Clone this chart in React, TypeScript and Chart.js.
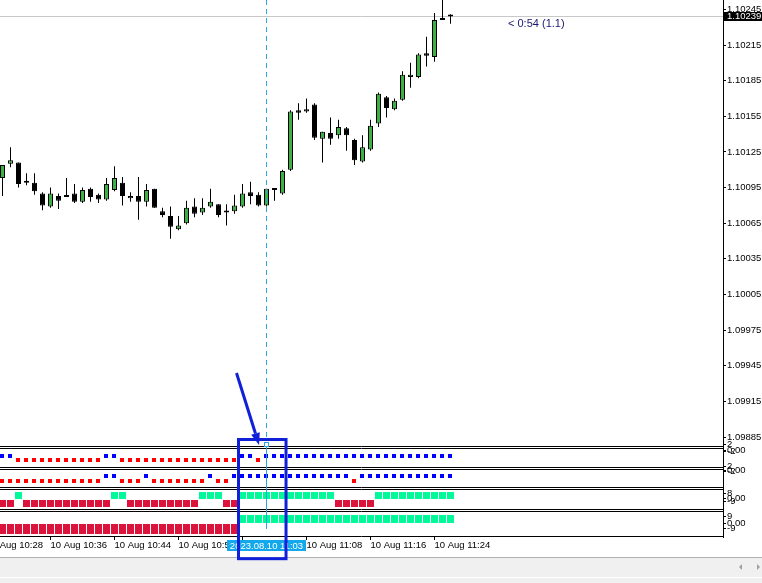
import React, { useEffect, useRef } from 'react';
import { Chart, registerables } from 'chart.js';

Chart.register(...registerables);

const FONT = "'Liberation Sans', Arial, sans-serif";
const TICK_FONT = { family: FONT, size: 9.5 };

// ---- time axis (candle index -> label) ----
const timeTickIndex = [-2, 6, 14, 22, 30, 38, 46, 54];
const timeLabels = [
  '10 Aug 10:28', '10 Aug 10:36', '10 Aug 10:44', '10 Aug 10:52',
  '10 Aug 11:00', '10 Aug 11:08', '10 Aug 11:16', '10 Aug 11:24',
];

// ---- price axis ----
const priceTicks = [
  1.09885, 1.09915, 1.09945, 1.09975, 1.10005, 1.10035, 1.10065,
  1.10095, 1.10125, 1.10155, 1.10185, 1.10215, 1.10245,
];

// ---- candles (M1, 10:30 .. 11:26) ----
const opens = [
  1.10103, 1.10115, 1.10116, 1.10099, 1.10099, 1.10090, 1.10079, 1.10088, 1.10088, 1.10090,
  1.10083, 1.10094, 1.10089, 1.10085, 1.10093, 1.10099, 1.10086, 1.10088, 1.10083, 1.10094,
  1.10075, 1.10071, 1.10060, 1.10065, 1.10079, 1.10074, 1.10079, 1.10081, 1.10075, 1.10075,
  1.10079, 1.10091, 1.10089, 1.10080, 1.10093, 1.10090, 1.10110, 1.10160, 1.10159, 1.10165,
  1.10136, 1.10141, 1.10139, 1.10145, 1.10135, 1.10117, 1.10127, 1.10149, 1.10171, 1.10161,
  1.10169, 1.10188, 1.10188, 1.10208, 1.10205, 1.10237, 1.10239,
];
const highs = [
  1.10114, 1.10129, 1.10116, 1.10107, 1.10107, 1.10091, 1.10095, 1.10090, 1.10103, 1.10098,
  1.10095, 1.10095, 1.10090, 1.10103, 1.10113, 1.10104, 1.10091, 1.10104, 1.10098, 1.10094,
  1.10078, 1.10079, 1.10071, 1.10084, 1.10086, 1.10086, 1.10094, 1.10081, 1.10081, 1.10089,
  1.10098, 1.10100, 1.10091, 1.10094, 1.10094, 1.10110, 1.10160, 1.10166, 1.10170, 1.10166,
  1.10142, 1.10154, 1.10152, 1.10146, 1.10136, 1.10139, 1.10152, 1.10175, 1.10172, 1.10170,
  1.10193, 1.10200, 1.10208, 1.10222, 1.10242, 1.10257, 1.10241,
];
const lows = [
  1.10088, 1.10112, 1.10095, 1.10097, 1.10089, 1.10076, 1.10078, 1.10077, 1.10087, 1.10082,
  1.10082, 1.10083, 1.10082, 1.10084, 1.10092, 1.10080, 1.10083, 1.10068, 1.10079, 1.10078,
  1.10070, 1.10052, 1.10059, 1.10064, 1.10070, 1.10072, 1.10078, 1.10070, 1.10063, 1.10073,
  1.10078, 1.10081, 1.10079, 1.10079, 1.10084, 1.10089, 1.10109, 1.10152, 1.10158, 1.10135,
  1.10116, 1.10131, 1.10136, 1.10126, 1.10114, 1.10116, 1.10126, 1.10146, 1.10154, 1.10160,
  1.10168, 1.10179, 1.10187, 1.10197, 1.10201, 1.10236, 1.10233,
];
const closes = [
  1.10114, 1.10118, 1.10098, 1.10099, 1.10092, 1.10080, 1.10090, 1.10084, 1.10087, 1.10083,
  1.10093, 1.10087, 1.10085, 1.10098, 1.10103, 1.10088, 1.10088, 1.10083, 1.10093, 1.10078,
  1.10072, 1.10062, 1.10063, 1.10078, 1.10073, 1.10078, 1.10083, 1.10072, 1.10074, 1.10080,
  1.10090, 1.10088, 1.10080, 1.10094, 1.10093, 1.10109, 1.10159, 1.10158, 1.10161, 1.10137,
  1.10142, 1.10136, 1.10146, 1.10139, 1.10118, 1.10129, 1.10147, 1.10174, 1.10162, 1.10168,
  1.10190, 1.10190, 1.10207, 1.10206, 1.10236, 1.10236, 1.10239,
];

const bidPrice = 1.10239;
const crossIndex = 33;
const crossLabel = '2023.08.10 11:03';
const timerText = '< 0:54 (1.1)';

// ---- indicator signals: 1 = up mark, -1 = down mark ----
const pane1Signal = [
  1, 1,
  -1, -1, -1, -1, -1, -1, -1, -1, -1, -1, -1,
  1, 1,
  -1, -1, -1, -1, -1, -1, -1, -1, -1, -1, -1, -1, -1, -1, -1,
  1, 1,
  -1,
  1, 1, 1, 1, 1, 1, 1, 1, 1, 1, 1, 1, 1, 1, 1, 1, 1, 1, 1, 1, 1, 1, 1, 1,
];
const pane2Signal = [
  -1, -1, -1, -1, -1, -1, -1, -1, -1, -1, -1, -1, -1,
  1, 1,
  -1, -1, -1,
  1,
  -1, -1, -1, -1, -1, -1, -1,
  1,
  -1, -1,
  1, 1, 1, 1, 1, 1, 1, 1, 1, 1, 1, 1, 1, 1, 1,
  -1,
  1, 1, 1, 1, 1, 1, 1, 1, 1, 1, 1, 1,
];
const pane3Signal = [
  -1, -1,
  1,
  -1, -1, -1, -1, -1, -1, -1, -1, -1, -1, -1,
  1, 1,
  -1, -1, -1, -1, -1, -1, -1, -1, -1,
  1, 1, 1,
  -1, -1,
  1, 1, 1, 1, 1, 1, 1, 1, 1, 1, 1, 1,
  -1, -1, -1, -1, -1,
  1, 1, 1, 1, 1, 1, 1, 1, 1, 1,
];
const pane4Signal = [
  -1, -1, -1, -1, -1, -1, -1, -1, -1, -1, -1, -1, -1, -1, -1,
  -1, -1, -1, -1, -1, -1, -1, -1, -1, -1, -1, -1, -1, -1, -1,
  1, 1, 1, 1, 1, 1, 1, 1, 1, 1, 1, 1, 1, 1, 1, 1, 1, 1, 1, 1, 1, 1, 1, 1, 1, 1, 1,
];

const pane1TickLabels = ['2', '0.00', '-2'];
const pane2TickLabels = ['2', '0.00', '-2'];
const pane3TickLabels = ['8', '0.00', '-9'];
const pane4TickLabels = ['9', '0.00', '-9'];
const pane1TickAt = [7.25, 4.0, 3.5];
const pane2TickAt = [5.2, 3.6, 3.2];
const pane3TickAt = [1.5, 0.3, -0.375];
const pane4TickAt = [1.56, 0.24, -0.7];

// ---- view / styling config ----
const X_MIN = -0.3125;
const X_MAX = 90.0625;
const Y_MIN = 1.098766;
const Y_MAX = 1.102529;
const GREEN = '#3CB043';
const CROSS = '#2AA6DE';
const ANNOT = '#1020D8';
const SPRING = '#00FA9A';
const CRIMSON = '#DC143C';
const timerPos = { x: 63.19, price: 1.102331 };
const annotRect = { x0: 29.5, x1: 35.44, priceTop: 1.098829 };
const annotArrow = { x0: 29.25, p0: 1.0993888, x1: 32.07, p1: 1.0987833 };

function makeMarker(w: number, h: number, color: string) {
  const c = document.createElement('canvas');
  c.width = w % 2 === 0 ? w + 1 : w;
  c.height = h % 2 === 0 ? h + 1 : h;
  const g = c.getContext('2d')!;
  g.fillStyle = color;
  g.fillRect(0, 0, w, h);
  return c;
}

function rightAxis(weight: number, min: number, max: number, tickVals: number[], tickLabels: string[]) {
  return {
    type: 'linear',
    position: 'right',
    stack: 'mt4',
    stackWeight: weight,
    min,
    max,
    offset: false,
    beginAtZero: false,
    grid: { drawOnChartArea: false, drawTicks: true, tickLength: 3, color: '#000', lineWidth: 1 },
    border: { display: true, color: '#000', width: 1 },
    ticks: {
      autoSkip: false,
      padding: 1,
      color: '#000',
      font: TICK_FONT,
      callback: (_v: any, i: number) => tickLabels[i],
    },
    afterBuildTicks: (s: any) => {
      s.ticks = tickVals.map((v) => ({ value: v }));
    },
    afterFit: (s: any) => {
      s.width = 39;
      s.paddingTop = 0;
      s.paddingBottom = 0;
    },
  };
}

const mt4Plugin = {
  id: 'mt4',
  beforeDatasetsDraw(chart: any) {
    const { ctx, chartArea, scales } = chart;
    const yb = Math.floor(scales.y.getPixelForValue(bidPrice)) + 0.5;
    ctx.save();
    ctx.strokeStyle = '#C8C8C8';
    ctx.lineWidth = 1;
    ctx.beginPath();
    ctx.moveTo(chartArea.left, yb);
    ctx.lineTo(chartArea.right, yb);
    ctx.stroke();
    ctx.restore();
  },
  afterDatasetsDraw(chart: any) {
    const { ctx, chartArea, scales } = chart;
    const L = chartArea.left;
    const R = chartArea.right;
    ctx.save();
    ctx.strokeStyle = '#000';
    ctx.lineWidth = 1;
    const hl = (y: number) => {
      ctx.beginPath();
      ctx.moveTo(L, y);
      ctx.lineTo(R, y);
      ctx.stroke();
    };
    hl(scales.y.bottom - 0.5);
    ['p1', 'p2', 'p3', 'p4'].forEach((id) => {
      const s = scales[id];
      hl(s.top + 1.5);
      hl(s.bottom - 0.5);
    });
    const cx = Math.floor(scales.x.getPixelForValue(crossIndex)) + 0.5;
    ctx.strokeStyle = CROSS;
    ctx.setLineDash([5, 4]);
    ctx.beginPath();
    ctx.moveTo(cx, chartArea.top);
    ctx.lineTo(cx, scales.y.bottom - 9);
    ctx.stroke();
    ctx.setLineDash([]);
    ctx.beginPath();
    ctx.moveTo(cx, scales.y.bottom - 1);
    ctx.lineTo(cx, scales.p4.top + 19);
    ctx.stroke();
    ctx.strokeRect(cx - 2, scales.y.bottom - 4.5, 4, 4);
    ctx.restore();
  },
  afterDraw(chart: any) {
    const { ctx, scales, width, height } = chart;
    const xs = scales.x;
    const ys = scales.y;
    ctx.save();
    // current price box on the axis
    const yb = Math.floor(ys.getPixelForValue(bidPrice));
    ctx.fillStyle = '#000';
    ctx.fillRect(ys.left + 1, yb - 4, width - ys.left - 1, 9);
    ctx.fillStyle = '#fff';
    ctx.font = `9.5px ${FONT}`;
    ctx.textAlign = 'left';
    ctx.textBaseline = 'middle';
    ctx.fillText(bidPrice.toFixed(5), ys.left + 4, yb + 0.5);
    // bar timer text
    ctx.fillStyle = '#191970';
    ctx.font = `11px ${FONT}`;
    ctx.fillText(timerText, xs.getPixelForValue(timerPos.x), ys.getPixelForValue(timerPos.price));
    // crosshair time label
    const cx = xs.getPixelForValue(crossIndex);
    ctx.fillStyle = '#13A8EC';
    ctx.fillRect(Math.round(cx - 39.5), xs.top + 3, 79, 11);
    ctx.fillStyle = '#fff';
    ctx.font = `9.5px ${FONT}`;
    ctx.textAlign = 'center';
    ctx.fillText(crossLabel, cx, xs.top + 9);
    // bottom scroll bar strip
    ctx.fillStyle = '#F0F0F0';
    ctx.fillRect(0, xs.bottom, width, height - xs.bottom);
    ctx.fillStyle = '#B0B0B0';
    ctx.fillRect(0, xs.bottom, width, 1);
    ctx.fillStyle = '#FFFFFF';
    ctx.fillRect(0, xs.bottom + 20, width, 1);
    ctx.fillStyle = '#A0A0A0';
    const ay = xs.bottom + 10;
    ctx.beginPath();
    ctx.moveTo(width - 23, ay);
    ctx.lineTo(width - 20, ay - 3);
    ctx.lineTo(width - 20, ay + 3);
    ctx.closePath();
    ctx.fill();
    ctx.beginPath();
    ctx.moveTo(width - 2, ay);
    ctx.lineTo(width - 5, ay - 3);
    ctx.lineTo(width - 5, ay + 3);
    ctx.closePath();
    ctx.fill();
    // user annotation: rectangle + arrow
    ctx.strokeStyle = ANNOT;
    ctx.fillStyle = ANNOT;
    ctx.lineWidth = 3;
    const rx0 = xs.getPixelForValue(annotRect.x0);
    const rx1 = xs.getPixelForValue(annotRect.x1);
    const ry0 = ys.getPixelForValue(annotRect.priceTop);
    const ry1 = xs.bottom + 1.7;
    ctx.strokeRect(rx0, ry0, rx1 - rx0, ry1 - ry0);
    const sx = xs.getPixelForValue(annotArrow.x0);
    const sy = ys.getPixelForValue(annotArrow.p0);
    const tx = xs.getPixelForValue(annotArrow.x1);
    const ty = ys.getPixelForValue(annotArrow.p1);
    const dx = tx - sx;
    const dy = ty - sy;
    const len = Math.hypot(dx, dy);
    const ux = dx / len;
    const uy = dy / len;
    const bx = tx - ux * 12;
    const by = ty - uy * 12;
    ctx.beginPath();
    ctx.moveTo(sx, sy);
    ctx.lineTo(bx, by);
    ctx.stroke();
    ctx.beginPath();
    ctx.moveTo(tx, ty);
    ctx.lineTo(bx - uy * 4.5, by + ux * 4.5);
    ctx.lineTo(bx + uy * 4.5, by - ux * 4.5);
    ctx.closePath();
    ctx.fill();
    ctx.restore();
  },
};

export default function App() {
  const ref = useRef<HTMLCanvasElement>(null);

  useEffect(() => {
    const canvas = ref.current;
    if (!canvas) return;

    const bodies = opens.map((o, i) => ({ x: i, y: [o, closes[i]] }));
    const wicks = lows.map((l, i) => ({ x: i, y: [l, highs[i]] }));
    const bodyColors = opens.map((o, i) => (closes[i] > o ? GREEN : '#000'));

    const markerSet = (signal: number[], axis: string, up: HTMLCanvasElement, down: HTMLCanvasElement) => [
      {
        type: 'line',
        data: signal.map((s, i) => (s === 1 ? { x: i, y: 1 } : null)).filter(Boolean),
        yAxisID: axis,
        xAxisID: 'x',
        showLine: false,
        pointStyle: up,
        pointRadius: 3,
        pointHoverRadius: 3,
        order: 2,
      },
      {
        type: 'line',
        data: signal.map((s, i) => (s === -1 ? { x: i, y: -1 } : null)).filter(Boolean),
        yAxisID: axis,
        xAxisID: 'x',
        showLine: false,
        pointStyle: down,
        pointRadius: 3,
        pointHoverRadius: 3,
        order: 2,
      },
    ];

    const datasets: any[] = [
      {
        type: 'bar',
        data: bodies,
        xAxisID: 'x',
        yAxisID: 'y',
        backgroundColor: bodyColors,
        borderColor: '#000',
        borderWidth: 1,
        borderSkipped: false,
        barThickness: 5,
        minBarLength: 2,
        grouped: false,
        inflateAmount: 0,
        order: 0,
      },
      {
        type: 'bar',
        data: wicks,
        xAxisID: 'x',
        yAxisID: 'y',
        backgroundColor: '#000',
        borderWidth: 0,
        barThickness: 1,
        grouped: false,
        inflateAmount: 0,
        order: 1,
      },
      ...markerSet(pane1Signal, 'p1', makeMarker(4, 4, '#0000FF'), makeMarker(4, 4, '#FF0000')),
      ...markerSet(pane2Signal, 'p2', makeMarker(4, 4, '#0000FF'), makeMarker(4, 4, '#FF0000')),
      ...markerSet(pane3Signal, 'p3', makeMarker(7, 7, SPRING), makeMarker(7, 7, CRIMSON)),
      ...markerSet(pane4Signal, 'p4', makeMarker(7, 8, SPRING), makeMarker(7, 10, CRIMSON)),
    ];

    const chart = new Chart(canvas, {
      type: 'bar',
      data: { datasets },
      options: {
        animation: false,
        responsive: false,
        maintainAspectRatio: false,
        devicePixelRatio: 1,
        events: [],
        layout: { autoPadding: false, padding: { left: 0, right: 0, top: 0, bottom: 26 } },
        plugins: { legend: { display: false }, tooltip: { enabled: false } },
        scales: {
          x: {
            type: 'linear',
            position: 'bottom',
            min: X_MIN,
            max: X_MAX,
            offset: false,
            grid: { drawOnChartArea: false, drawTicks: true, tickLength: 3, color: '#000', offset: false },
            border: { display: false },
            ticks: {
              autoSkip: false,
              maxRotation: 0,
              minRotation: 0,
              align: 'start',
              padding: 0,
              color: '#000',
              font: TICK_FONT,
              callback: (_v: any, i: number) => timeLabels[i],
            },
            afterBuildTicks: (s: any) => {
              s.ticks = timeTickIndex.map((v) => ({ value: v }));
            },
            afterFit: (s: any) => {
              s.height = 20;
              s.paddingLeft = 0;
              s.paddingRight = 0;
            },
          },
          y: rightAxis(447, Y_MIN, Y_MAX, priceTicks, priceTicks.map((v) => v.toFixed(5))),
          p1: rightAxis(21, -4.75, 5.75, pane1TickAt, pane1TickLabels),
          p2: rightAxis(20, -3.6, 4.4, pane2TickAt, pane2TickLabels),
          p3: rightAxis(22, -2.625, 2.875, pane3TickAt, pane3TickLabels),
          p4: rightAxis(27, -2.5, 2.9, pane4TickAt, pane4TickLabels),
        } as any,
      },
      plugins: [mt4Plugin],
    } as any);

    return () => chart.destroy();
  }, []);

  return (
    <div style={{ position: 'fixed', left: 0, top: 0, width: 762, height: 583, background: '#fff' }}>
      <canvas ref={ref} width={762} height={583} style={{ display: 'block', width: 762, height: 583 }} />
    </div>
  );
}
